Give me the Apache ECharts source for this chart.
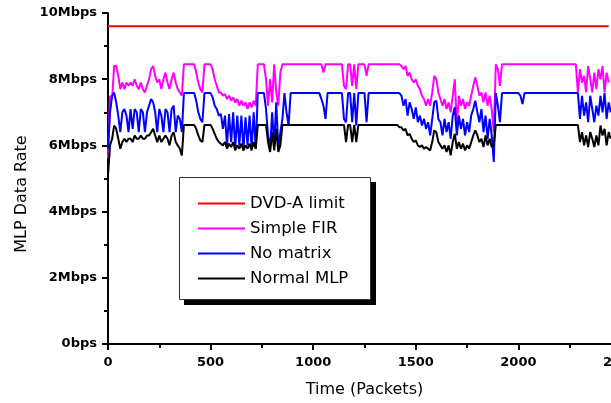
<!DOCTYPE html>
<html>
<head>
<meta charset="utf-8">
<script src="https://cdn.jsdelivr.net/npm/echarts@6/dist/echarts.min.js"></script>
<style>
html,body{margin:0;padding:0;background:#fff;}
#chart{width:611px;height:403px;}
</style>
</head>
<body>
<div id="chart"></div>
<script>
// Packet index step (x sample positions): 0,10,20,...,2450
var packetStep = 10;
var xTicks = [0, 500, 1000, 1500, 2000, 2500];
var yTicks = [0, 2, 4, 6, 8, 10];
var seriesNames = ['DVD-A limit', 'Simple FIR', 'No matrix', 'Normal MLP'];
var dvdLimit = 9.6;

var simpleFIR = [
5.6,7.5,7.4,8.4,8.4,8.1,7.7,7.9,7.7,7.9, 7.8,7.9,7.8,8.0,7.8,7.7,7.9,7.7,7.6,7.8,
8.0,8.3,8.4,8.1,7.9,8.0,7.7,8.0,8.2,7.9, 7.7,8.0,8.2,7.9,7.7,7.6,7.5,
8.45,8.45,8.45,8.45,8.45,8.45, 8.2,7.9,7.7,7.6, 8.45,8.45,8.45,8.45, 8.3,8.0,7.8,7.6,7.6,7.5,
7.55,7.4,7.5,7.35,7.45,7.3,7.4,7.2,7.35,7.2,7.3,7.1,7.3,7.15,7.35,7.2,
8.45,8.45,8.45,8.45, 8.0,7.2,8.0,7.3,8.45,7.6,7.2,8.2,
8.45,8.45,8.45,8.45,8.45,8.45,8.45,8.45,8.45,8.45,8.45,8.45,8.45,8.45,8.45,8.45,8.45,8.45,8.45,8.45,
8.2, 8.45,8.45,8.45,8.45,8.45,8.45,8.45,8.45,8.45, 7.8,7.7, 8.45,8.45, 7.8, 8.45, 7.7, 8.45,8.45,
8.45,8.45,8.1, 8.45,8.45,8.45,8.45,8.45,8.45,8.45,8.45,8.45,8.45,8.45,8.45,8.45,8.45,8.45,8.45,
8.4,8.3,8.4,8.1,8.2,8.0,7.9,8.0,7.8,7.7, 7.5,7.4,7.2,7.4,7.2,7.6,8.1,8.0,7.6,7.4,
7.2,7.4,7.1,7.3,7.0,7.5,8.0,6.6,7.5,7.2, 7.4,7.1,7.3,7.2,7.5,7.8,8.05,7.8,7.5,7.6,
7.3,7.6,7.2,7.5,7.1,6.4,
8.45,8.3,7.8, 8.45,8.45,8.45,8.45,8.45,8.45,8.45,8.45,8.45,8.45,8.45,8.45,8.45,8.45,8.45,8.45,8.45,8.45,8.45,
8.45,8.45,8.45,8.45,8.45,8.45,8.45,8.45,8.45,8.45,8.45,8.45,8.45,8.45,8.45,8.45,8.45,
8.45,7.6,8.3,7.9,8.1,7.6,8.4,8.0,7.6,8.2,7.7,8.3,8.0,8.4,7.6,8.2,7.9
];

var noMatrix = [
5.9,7.0,7.5,7.6,7.3,6.9,6.4,7.0,7.1,6.9, 6.4,7.1,6.5,7.1,7.0,6.4,7.1,7.0,6.4,7.0,
7.2,7.4,7.3,7.0,6.4,7.1,6.9,6.4,7.1,7.0, 6.4,7.1,7.2,6.4,6.9,6.8,6.4,
7.58,7.58,7.58,7.58,7.58,7.58, 7.35,7.0,6.8,6.7, 7.58,7.58,7.58,7.58, 7.45,7.2,7.1,6.9,6.95,6.5,
6.9,6.0,6.95,6.1,7.0,5.9,6.9,6.0,6.9,5.85,6.85,6.0,6.9,5.9,7.0,5.9,
7.58,7.58,7.58,7.58, 7.1,6.3,5.9,7.0,6.0,7.3,5.9,6.4,6.8,7.58,7.0,6.6,
7.58,7.58,7.58,7.58,7.58,7.58,7.58,7.58,7.58,7.58,7.58,7.58,7.58,7.58,7.58,
7.4,7.2,6.8, 7.58,7.58,7.58,7.58,7.58,7.58,7.58,7.58, 6.8,6.7, 7.58,7.58, 6.7, 7.58, 6.6, 7.58,7.58,
7.58,7.58,6.7, 7.58,7.58,7.58,7.58,7.58,7.58,7.58,7.58,7.58,7.58,7.58,7.58,7.58,7.58,7.58,7.58,
7.5,7.2,7.4,6.9,7.3,7.1,6.8,7.15,6.7,6.9, 6.6,6.8,6.5,6.7,6.3,6.8,7.3,7.35,6.8,6.7,
6.3,6.8,6.4,6.7,6.2,6.9,7.15,6.3,6.9,6.5, 6.8,6.3,6.7,6.4,6.9,7.1,7.35,7.0,6.7,7.1,
6.4,6.9,6.2,6.8,6.3,5.5,
7.58,7.2,6.7, 7.58,7.58,7.58,7.58,7.58,7.58,7.58,7.58,7.58, 7.5,7.25,
7.58,7.58,7.58,7.58,7.58,7.58,7.58,7.58,7.58,7.58,7.58,7.58,7.58,7.58,7.58,7.58,7.58,7.58,7.58,7.58,7.58,7.58,7.58,7.58,7.58,7.58,
7.58,6.8,7.5,6.9,7.3,6.7,7.5,7.1,6.7,7.2,6.9,7.5,7.0,7.58,6.8,7.3,7.0
];

var normalMLP = [
5.1,6.0,6.2,6.6,6.5,6.2,5.9,6.1,6.2,6.1, 6.2,6.2,6.1,6.3,6.2,6.2,6.3,6.2,6.2,6.3,
6.3,6.4,6.5,6.3,6.1,6.3,6.1,6.2,6.3,6.2, 6.0,6.3,6.4,6.1,6.0,5.9,5.7,
6.62,6.62,6.62,6.62,6.62,6.62, 6.5,6.3,6.15,6.1, 6.62,6.62,6.62,6.62, 6.5,6.35,6.2,6.1,6.05,6.0,
6.1,5.9,6.05,5.95,6.1,5.85,6.0,5.9,6.05,5.85,6.0,5.9,6.05,5.85,6.1,5.9,
6.62,6.62,6.62,6.62,6.62, 6.1,5.8,6.4,5.85,6.5,5.8,6.0,
6.62,6.62,6.62,6.62,6.62,6.62,6.62,6.62,6.62,6.62,6.62,6.62,6.62,6.62,6.62,6.62,
6.62,6.62,6.62,6.62,6.62,6.62,6.62,6.62,6.62,6.62,6.62,6.62,6.62,6.62,6.62,
6.1, 6.62,6.62, 6.1, 6.62, 6.1, 6.62,6.62,
6.62,6.62,6.62,6.62,6.62,6.62,6.62,6.62,6.62,6.62,6.62,6.62,6.62,6.62,6.62,6.62,6.62,6.62,6.55,
6.55,6.45,6.5,6.3,6.35,6.2,6.1,6.15,6.0,5.95, 6.0,5.9,5.95,5.9,5.85,6.1,6.45,6.4,6.1,6.0,
5.9,6.0,5.8,6.0,5.7,6.1,6.35,5.9,6.1,5.9, 6.05,5.85,6.0,5.9,6.1,6.3,6.45,6.3,6.1,6.2,
5.95,6.3,6.0,6.2,5.95,6.0,
6.62,6.62,6.62,6.62,6.62,6.62,6.62,6.62,6.62,6.62,6.62,6.62,6.62,6.62,6.62,6.62,6.62,6.62,6.62,6.62,
6.62,6.62,6.62,6.62,6.62,6.62,6.62,6.62,6.62,6.62,6.62,6.62,6.62,6.62,6.62,6.62,6.62,6.62,6.62,6.62,
6.62,6.1,6.4,6.0,6.3,5.95,6.4,6.2,5.95,6.3,6.0,6.6,6.3,6.5,6.0,6.4,6.2
];

function pairs(vals) {
  return vals.map(function (v, i) { return [i * packetStep, v]; });
}
var limitData = simpleFIR.map(function (v, i) { return [i * packetStep, dvdLimit]; });

var chart = echarts.init(document.getElementById('chart'), null, {renderer: 'canvas'});
var axisFont = {fontFamily: 'DejaVu Sans', fontWeight: 'bold', fontSize: 13, color: '#000'};
var legendIcon = 'rect';

chart.setOption({
  animation: false,
  backgroundColor: '#fff',
  grid: {left: 108, top: 13, width: 513, height: 331, containLabel: false, outerBoundsMode: 'none'},
  xAxis: {
    type: 'value', min: xTicks[0], max: xTicks[xTicks.length - 1], interval: 500,
    axisLine: {show: true, onZero: false, lineStyle: {color: '#000', width: 2}},
    axisTick: {show: true, inside: false, length: 6, lineStyle: {color: '#000', width: 2}},
    minorTick: {show: true, splitNumber: 2, length: 4, lineStyle: {color: '#000', width: 2}},
    splitLine: {show: false},
    axisLabel: Object.assign({margin: 12, hideOverlap: false, formatter: function (v) { return String(v); }}, axisFont)
  },
  yAxis: {
    type: 'value', min: yTicks[0], max: yTicks[yTicks.length - 1], interval: 2,
    axisLine: {show: true, onZero: false, lineStyle: {color: '#000', width: 2}},
    axisTick: {show: true, inside: false, length: 6, lineStyle: {color: '#000', width: 2}},
    minorTick: {show: true, splitNumber: 2, length: 4, lineStyle: {color: '#000', width: 2}},
    splitLine: {show: false},
    axisLabel: Object.assign({margin: 11, formatter: function (v) { return v === 0 ? '0bps' : v + 'Mbps'; }}, axisFont)
  },
  legend: {
    orient: 'vertical', left: 179, top: 177, z: 20,
    padding: [18, 20, 16, 19],
    itemWidth: 47, itemHeight: 2, itemGap: 8,
    icon: legendIcon,
    backgroundColor: 'transparent', borderWidth: 0,
    textStyle: {fontFamily: 'DejaVu Sans', fontSize: 16.5, color: '#000'},
    data: seriesNames
  },
  graphic: [
    {type: 'rect', z: 1, shape: {x: 184, y: 182, width: 192, height: 123}, style: {fill: '#000'}, silent: true},
    {type: 'rect', z: 2, shape: {x: 179.5, y: 177.5, width: 191, height: 122}, style: {fill: '#fff', stroke: '#333', lineWidth: 1}, silent: true},
    {type: 'text', z: 10, x: 364.5, y: 390, style: {text: 'Time (Packets)', fontFamily: 'DejaVu Sans', fontSize: 16, fill: '#000', align: 'center', verticalAlign: 'middle'}},
    {type: 'text', z: 10, rotation: Math.PI / 2, x: 22, y: 194, style: {text: 'MLP Data Rate', fontFamily: 'DejaVu Sans', fontSize: 16, fill: '#000', align: 'center', verticalAlign: 'middle'}}
  ],
  series: [
    {name: seriesNames[0], type: 'line', data: limitData, symbol: 'none', lineStyle: {color: '#ff0000', width: 2}, itemStyle: {color: '#ff0000'}},
    {name: seriesNames[1], type: 'line', data: pairs(simpleFIR), symbol: 'none', lineStyle: {color: '#ff00ff', width: 2}, itemStyle: {color: '#ff00ff'}},
    {name: seriesNames[2], type: 'line', data: pairs(noMatrix), symbol: 'none', lineStyle: {color: '#0000ff', width: 2}, itemStyle: {color: '#0000ff'}},
    {name: seriesNames[3], type: 'line', data: pairs(normalMLP), symbol: 'none', lineStyle: {color: '#000000', width: 2}, itemStyle: {color: '#000000'}}
  ]
});
</script>
</body>
</html>
